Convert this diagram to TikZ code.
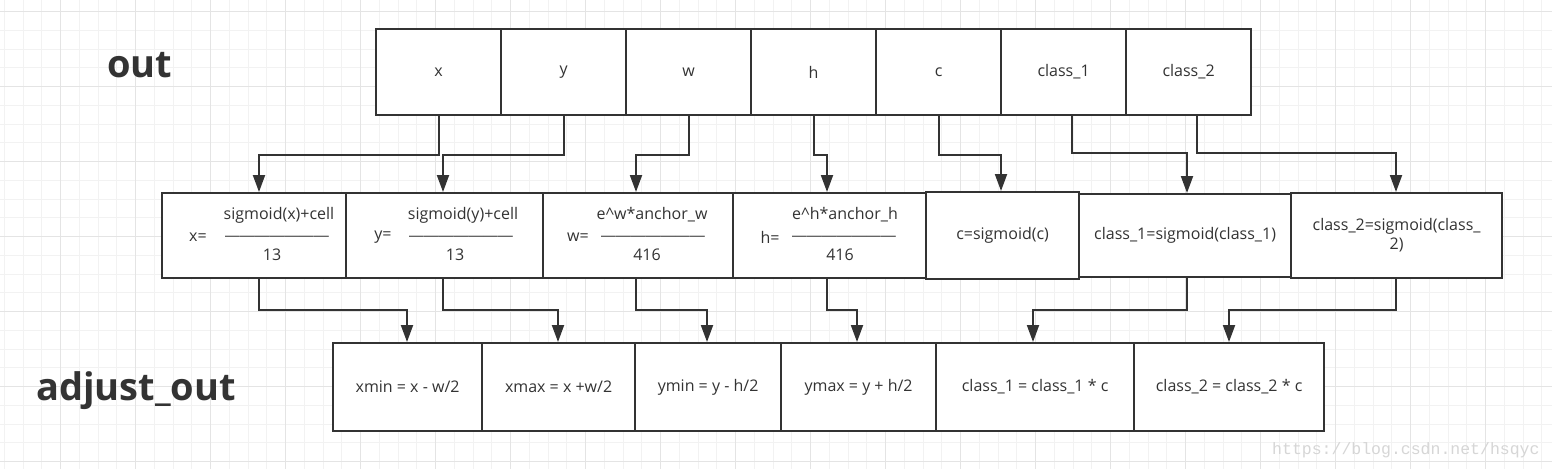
\documentclass[tikz,border=0pt]{standalone}
\usepackage{fontspec}
\setmainfont{Open Sans}
\newfontfamily\wmfont{Liberation Mono}
\newfontfamily\barfont{Liberation Sans}
\usetikzlibrary{arrows.meta}
\definecolor{ink}{HTML}{333333}
\definecolor{gridminor}{HTML}{F2F2F2}
\definecolor{gridmajor}{HTML}{E4E4E4}
\definecolor{wmgray}{HTML}{D6D6D6}
\tikzset{
  box/.style={draw=ink, line width=2.2pt, fill=white, inner sep=0pt, anchor=north west,
              text=ink, font=\fontsize{16}{19}\selectfont},
  lbl/.style={text=ink, font=\fontsize{16}{19}\selectfont, inner sep=0pt},
  bar/.style={text=ink, font=\barfont\fontsize{14.8}{18}\selectfont, inner sep=0pt, anchor=base},
  conn/.style={draw=ink, line width=2pt, -{Triangle[width=12pt,length=17pt]}},
  heading/.style={text=ink, font=\fontsize{38}{44}\selectfont\bfseries, inner sep=0pt, anchor=base west},
  gminor/.style={draw=gridminor, line width=1pt},
  gmajor/.style={draw=gridmajor, line width=1pt},
}
\begin{document}
\begin{tikzpicture}[x=1pt,y=-1pt]
\useasboundingbox (0,0) rectangle (1552,469);
\fill[white] (0,0) rectangle (1552,469);
% grid
\foreach \i in {0,...,82} {\draw[gminor] ({4.45+18.75*\i},0) -- ({4.45+18.75*\i},469);}
\foreach \j in {0,...,24} {\draw[gminor] (0,{11.7+18.75*\j}) -- (1552,{11.7+18.75*\j});}
\foreach \i in {0,...,19} {\draw[gmajor] ({60.7+75*\i},0) -- ({60.7+75*\i},469);}
\foreach \j in {0,...,6} {\draw[gmajor] (0,{11.7+75*\j}) -- (1552,{11.7+75*\j});}

% headings
\node[heading] (hout) at (107,77) {out};
\node[heading] (hadj) at (36,400) {adjust\_out};

% top row
\node[box, minimum width=125pt, minimum height=86pt] (tx) at (375,28) {x};
\node[box, minimum width=125pt, minimum height=86pt] (ty) at (500,28) {y};
\node[box, minimum width=125pt, minimum height=86pt] (tw) at (625,28) {w};
\node[box, minimum width=125pt, minimum height=86pt] (th) at (750,28) {h};
\node[box, minimum width=125pt, minimum height=86pt] (tc) at (875,28) {c};
\node[box, minimum width=125pt, minimum height=86pt] (t1) at (1000,28) {class\_1};
\node[box, minimum width=125pt, minimum height=86pt] (t2) at (1125,28) {class\_2};

% middle row
\node[box, minimum width=184pt, minimum height=85pt] (mx) at (161,192) {};
\node[box, minimum width=197pt, minimum height=85pt] (my) at (345,192) {};
\node[box, minimum width=190pt, minimum height=85pt] (mw) at (542,192) {};
\node[box, minimum width=193pt, minimum height=85pt] (mh) at (732,192) {};
\node[box, minimum width=153pt, minimum height=87pt] (mc) at (925,191) {c=sigmoid(c)};
\node[box, minimum width=212pt, minimum height=83pt] (m1) at (1078,193) {class\_1=sigmoid(class\_1)};
\node[box, minimum width=211pt, minimum height=85pt, align=center] (m2) at (1290,192) {class\_2=sigmoid(class\_\\2)};

% fraction contents
\node[lbl] (xeq) at (198,237) {x=};
\node[lbl] (xnum) at (279,215) {sigmoid(x)+cell};
\node[bar] (xbar) at (277,240) {———————};
\node[lbl] (xden) at (272,255) {13};

\node[lbl] (yeq) at (383,237) {y=};
\node[lbl] (ynum) at (463,215) {sigmoid(y)+cell};
\node[bar] (ybar) at (461,240) {———————};
\node[lbl] (yden) at (455,255) {13};

\node[lbl] (weq) at (578,237) {w=};
\node[lbl] (wnum) at (652,215) {e\^{}w*anchor\_w};
\node[bar] (wbar) at (653,240) {———————};
\node[lbl] (wden) at (647,255) {416};

\node[lbl] (heq) at (770,237) {h=};
\node[lbl] (hnum) at (845,215) {e\^{}h*anchor\_h};
\node[bar] (hbar) at (844,240) {———————};
\node[lbl] (hden) at (840,255) {416};

% bottom row
\node[box, minimum width=149pt, minimum height=88pt] (bxmin) at (332,342) {xmin = x - w/2};
\node[box, minimum width=153pt, minimum height=88pt] (bxmax) at (481,342) {xmax = x +w/2};
\node[box, minimum width=146pt, minimum height=88pt] (bymin) at (634,342) {ymin = y - h/2};
\node[box, minimum width=155pt, minimum height=88pt] (bymax) at (780,342) {ymax = y + h/2};
\node[box, minimum width=198pt, minimum height=88pt] (bc1) at (935,342) {class\_1 = class\_1 * c};
\node[box, minimum width=190pt, minimum height=88pt] (bc2) at (1133,342) {class\_2 = class\_2 * c};

% connector end points
\coordinate (t1out) at (1072,114);
\coordinate (t2out) at (1197,114);
\coordinate (mxin) at (259,192);
\coordinate (myin) at (443,192);
\coordinate (mwin) at (636,192);
\coordinate (mhin) at (827,192);
\coordinate (mcin) at (1001,191);
\coordinate (m1in) at (1187,193);
\coordinate (m2in) at (1396,192);
\coordinate (mxout) at (259,277);
\coordinate (myout) at (443,277);
\coordinate (mwout) at (636,277);
\coordinate (mhout) at (827,277);
\coordinate (m1out) at (1187,276);
\coordinate (m2out) at (1396,277);
\coordinate (bxminin) at (407,342);
\coordinate (bxmaxin) at (558,342);
\coordinate (byminin) at (707,342);
\coordinate (bymaxin) at (857,342);
\coordinate (bc1in) at (1033,342);
\coordinate (bc2in) at (1229,342);

% top -> middle
\draw[conn] (tx.south) -- ++(0,39) -| (mxin);
\draw[conn] (ty.south) -- ++(0,39) -| (myin);
\draw[conn] (tw.south) -- ++(0,39) -| (mwin);
\draw[conn] (th.south) -- ++(0,39) -| (mhin);
\draw[conn] (tc.south) -- ++(0,39) -| (mcin);
\draw[conn] (t1out) -- ++(0,39) -| (m1in);
\draw[conn] (t2out) -- ++(0,39) -| (m2in);

% middle -> bottom
\draw[conn] (mxout) -- ++(0,33) -| (bxminin);
\draw[conn] (myout) -- ++(0,33) -| (bxmaxin);
\draw[conn] (mwout) -- ++(0,33) -| (byminin);
\draw[conn] (mhout) -- ++(0,33) -| (bymaxin);
\draw[conn] (m1out) -- ++(0,34) -| (bc1in);
\draw[conn] (m2out) -- ++(0,33) -| (bc2in);

% watermark
\node[text=wmgray, font=\wmfont\fontsize{16.5}{19}\selectfont, inner sep=0pt, anchor=base west] (wm) at (1272,454) {https://blog.csdn.net/hsqyc};
\end{tikzpicture}
\end{document}
